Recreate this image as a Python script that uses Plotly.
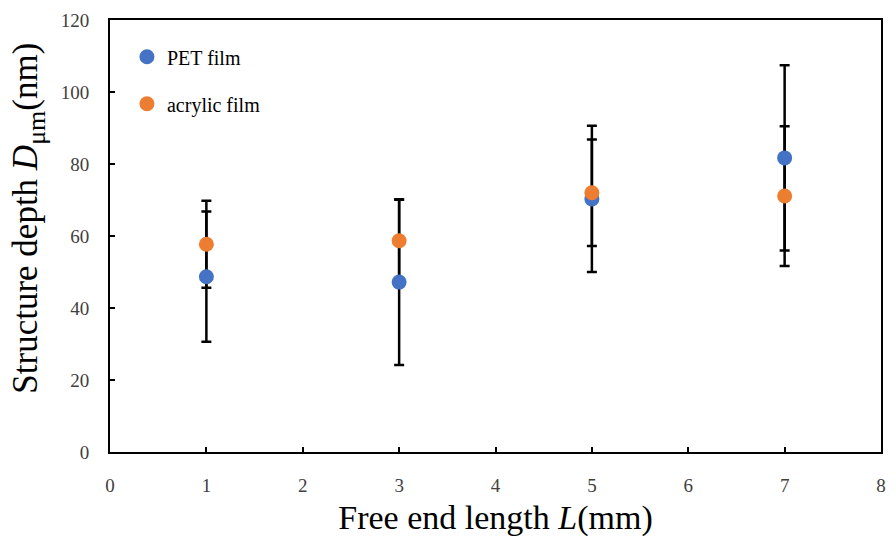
import plotly.graph_objects as go

# Free end length L (mm)
lengths = [1, 3, 5, 7]

# Structure depth (nm) and standard deviation for each film
pet_depth = [48.7, 47.2, 70.3, 81.7]
pet_err = [18.1, 23.0, 20.3, 25.7]
acrylic_depth = [57.7, 58.7, 72.0, 71.1]
acrylic_err = [12.1, 11.4, 14.8, 19.4]

x_ticks = [0, 1, 2, 3, 4, 5, 6, 7, 8]
y_ticks = [0, 20, 40, 60, 80, 100, 120]

BLUE = "#4472C4"
ORANGE = "#ED7D31"
FONT = "Liberation Serif, Times New Roman, serif"

fig = go.Figure()

# Error bars first so every marker sits on top of them
for depth, err in ((pet_depth, pet_err), (acrylic_depth, acrylic_err)):
    fig.add_trace(go.Scatter(
        x=lengths, y=depth, mode="markers",
        marker=dict(size=1, opacity=0),
        error_y=dict(type="data", array=err, visible=True,
                     color="black", thickness=2.5, width=5),
        showlegend=False, hoverinfo="skip",
    ))

fig.add_trace(go.Scatter(
    x=lengths, y=pet_depth, mode="markers", name="PET film",
    marker=dict(size=15, color=BLUE), legendgroup="pet",
))
fig.add_trace(go.Scatter(
    x=lengths, y=acrylic_depth, mode="markers", name="acrylic film",
    marker=dict(size=15, color=ORANGE), legendgroup="acrylic",
))

axis_common = dict(
    showline=True, linecolor="black", linewidth=2, mirror=True,
    showgrid=False, zeroline=False,
    ticks="inside", ticklen=5, tickwidth=2, tickcolor="black",
    tickfont=dict(family=FONT, size=19, color="#404040"),
    ticklabelstandoff=15,
)

fig.update_xaxes(
    range=[0, 8], tickvals=x_ticks,
    title=dict(text="Free end length <i>L</i>(mm)",
               font=dict(family=FONT, size=34, color="black"), standoff=10),
    **axis_common,
)
fig.update_yaxes(range=[0, 120], tickvals=y_ticks, **axis_common)

# Vertical axis title, placed as a rotated annotation
fig.add_annotation(
    text="Structure depth <i>D</i><sub><span style='font-size:26px'>μm</span></sub>(nm)",
    xref="paper", yref="paper", x=(28 - 110) / 776, y=(452 - 216) / 436,
    xanchor="center", yanchor="middle", textangle=-90, showarrow=False,
    font=dict(family=FONT, size=35, color="black"),
)

fig.update_layout(
    width=896, height=547,
    margin=dict(l=110, r=10, t=16, b=95),
    plot_bgcolor="white", paper_bgcolor="white",
    font=dict(family=FONT, color="black"),
    legend=dict(x=0.022, y=0.96, xanchor="left", yanchor="top",
                font=dict(family=FONT, size=20, color="black"),
                bgcolor="rgba(0,0,0,0)", tracegroupgap=18,
                itemsizing="trace"),
)

fig.write_html("out.html")
